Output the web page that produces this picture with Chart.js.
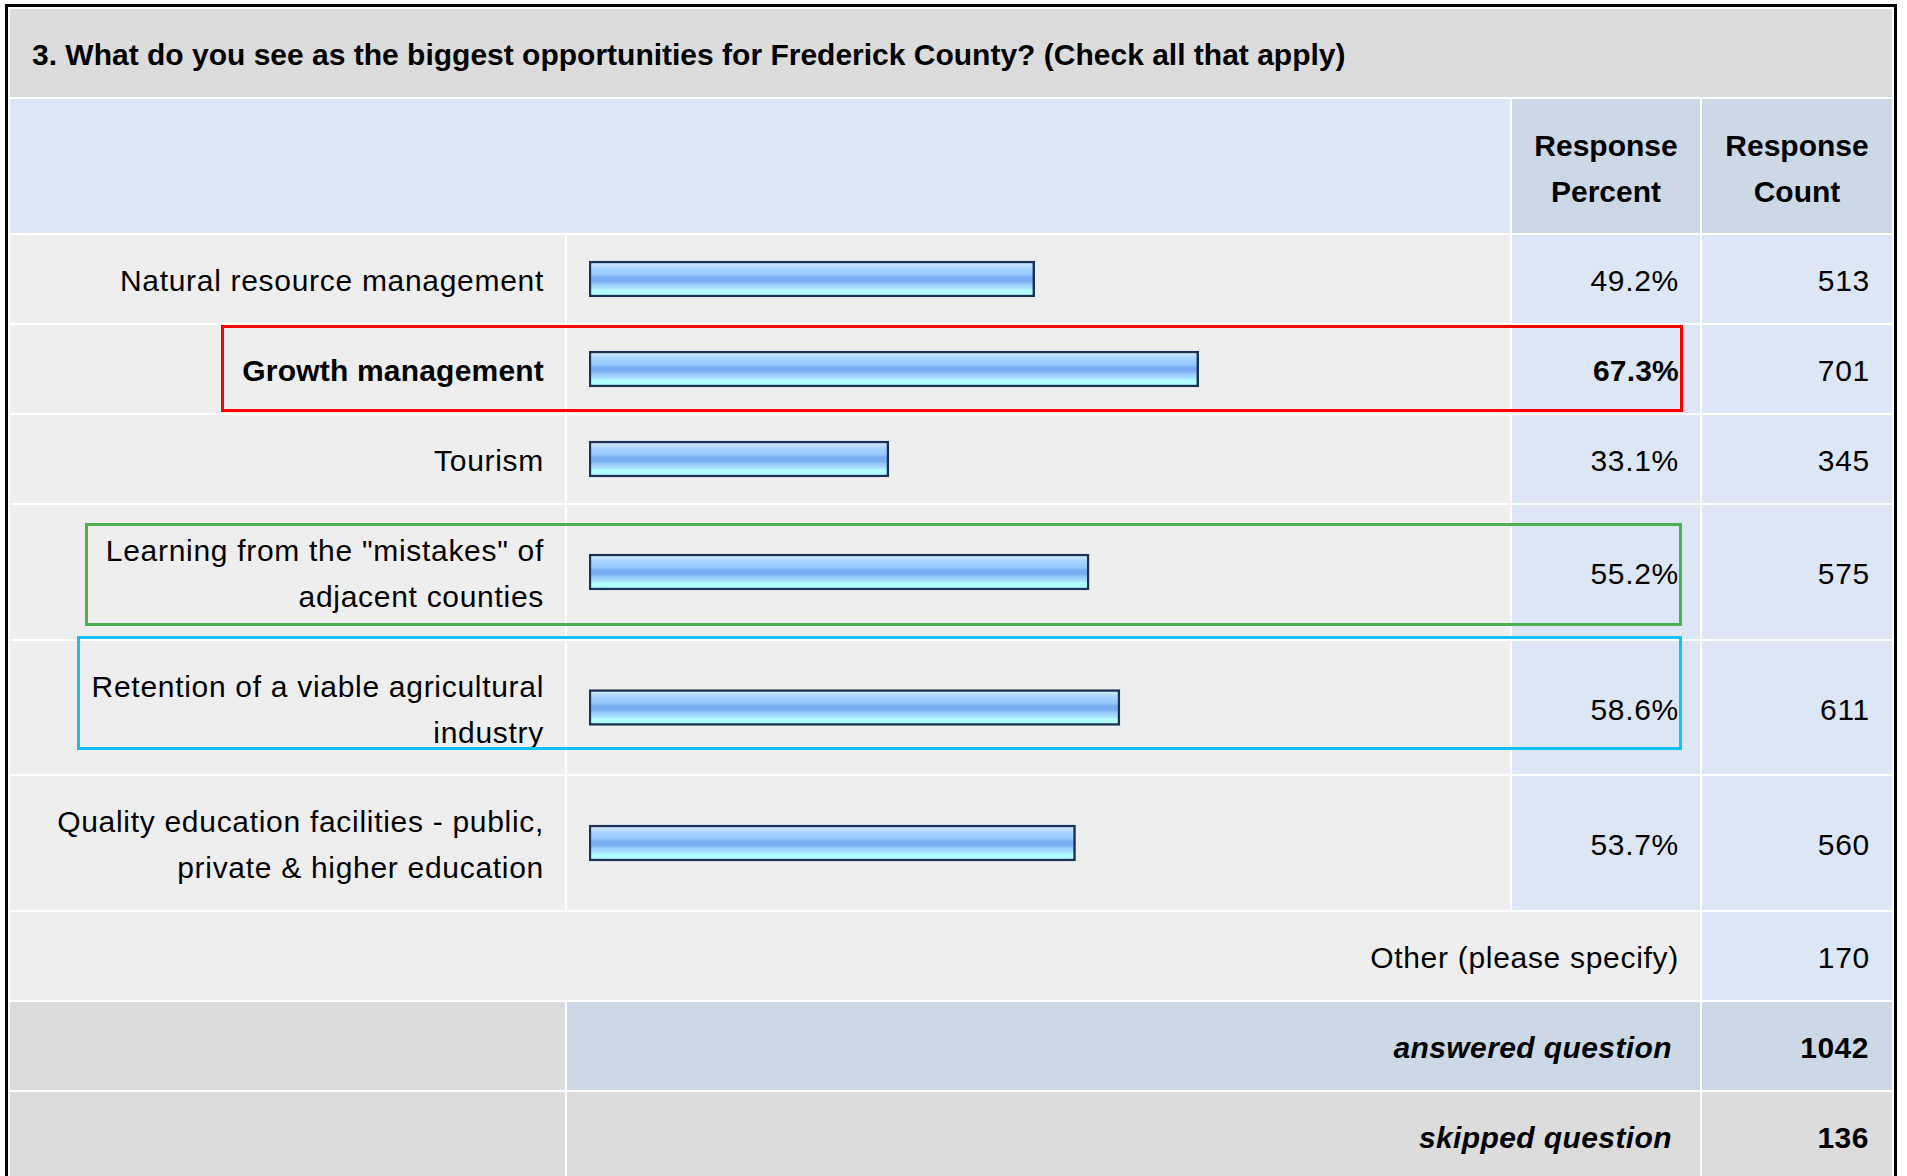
<!DOCTYPE html>
<html>
<head>
<meta charset="utf-8">
<title>Frederick County survey - question 3</title>
<script src="https://cdn.jsdelivr.net/npm/chart.js@4.4.1/dist/chart.umd.min.js"></script>
<style>
    html, body { margin: 0; padding: 0; background: #fff; }
    body {
        width: 1907px; height: 1176px; overflow: hidden; position: relative;
        font-family: "Liberation Sans", Arial, sans-serif; color: #000;
    }
    #survey {
        position: absolute; left: 5px; top: 4px;
        border: 3px solid #000; border-collapse: separate; border-spacing: 2px;
        background: #fff; table-layout: fixed;
    }
    #survey td { padding: 0; font-size: 30px; line-height: 46px; vertical-align: middle; letter-spacing: 0.7px; }
    #survey td .t { position: relative; top: 2px; }
    #survey td.title { background: #dcdcdc; font-weight: bold; padding-left: 22px; text-align: left; letter-spacing: 0; }
    #survey td.blank { background: #dce6f4; }
    #survey td.head { background: #ccd8e6; font-weight: bold; text-align: center; letter-spacing: 0; }
    #survey td.head .t { top: 3px; }
    #survey td.label { background: #eeeeee; text-align: right; padding-right: 21px; }
    #survey td.bar { background: #eeeeee; }
    #survey td.bar canvas { display: block; }
    #survey td.pct { background: #dce6f4; text-align: right; padding-right: 21px; }
    #survey td.count { background: #dce6f4; text-align: right; padding-right: 22px; }
    #survey td.other { background: #eeeeee; text-align: right; padding-right: 21px; }
    #survey td.sumLeft { background: #dcdcdc; }
    #survey td.sumText { font-weight: bold; font-style: italic; text-align: right; padding-right: 28px; letter-spacing: 0.4px; }
    #survey td.sumCount { font-weight: bold; text-align: right; padding-right: 23px; letter-spacing: 0.5px; }
    #survey tr.answered td.sumText, #survey tr.answered td.sumCount { background: #ccd8e6; }
    #survey tr.skipped td.sumText, #survey tr.skipped td.sumCount { background: #dcdcdc; }
    #survey td.strong { font-weight: bold; letter-spacing: 0.2px; }
    .mark { position: absolute; box-sizing: border-box; border: 3px solid; pointer-events: none; }
</style>
</head>
<body>
<table id="survey">
    <colgroup>
        <col style="width:555px"><col style="width:943px"><col style="width:188px"><col style="width:190px">
    </colgroup>
    <tbody id="surveyBody"></tbody>
</table>

<div class="mark" style="left:221px; top:325px; width:1462px; height:87px; border-color:#ff0000;"></div>
<div class="mark" style="left:85px; top:523px; width:1597px; height:103px; border-color:#4caf50;"></div>
<div class="mark" style="left:77px; top:636px; width:1605px; height:114px; border-color:#14c0f6;"></div>

<script>
// Question data
const title = '3. What do you see as the biggest opportunities for Frederick County? (Check all that apply)';
const headers = [['Response', 'Percent'], ['Response', 'Count']];
const categories = [
    ['Natural resource management'],
    ['Growth management'],
    ['Tourism'],
    ['Learning from the "mistakes" of', 'adjacent counties'],
    ['Retention of a viable agricultural', 'industry'],
    ['Quality education facilities - public,', 'private & higher education']
];
const percents = [49.2, 67.3, 33.1, 55.2, 58.6, 53.7];
const counts = [513, 701, 345, 575, 611, 560];
const highlighted = [false, true, false, false, false, false];
const otherLabel = 'Other (please specify)';
const otherCount = 170;
const answeredCount = 1042;
const skippedCount = 136;

const BAR_THICKNESS = 36;

// Glossy blue fill, same look as the survey tool bars
const barFill = (chart) => {
    const area = chart.chartArea;
    if (!area) return '#93c6ff';
    const mid = (area.top + area.bottom) / 2;
    const g = chart.ctx.createLinearGradient(0, mid - BAR_THICKNESS / 2, 0, mid + BAR_THICKNESS / 2);
    g.addColorStop(0, '#d6ecff');
    g.addColorStop(0.1, '#c6e3ff');
    g.addColorStop(0.2, '#a8d4ff');
    g.addColorStop(0.38, '#95c7ff');
    g.addColorStop(0.45, '#79aef2');
    g.addColorStop(0.56, '#79aef2');
    g.addColorStop(0.64, '#97c9fd');
    g.addColorStop(0.76, '#aae2ff');
    g.addColorStop(0.82, '#b2ffff');
    g.addColorStop(1, '#b2ffff');
    return g;
};

document.addEventListener('DOMContentLoaded', () => {
    const body = document.getElementById('surveyBody');
    const rowHeights = categories.map(c => c.length > 1 ? 134 : 88);
    rowHeights[4] = 133;

    let html = `
        <tr><td class="title" colspan="4" style="height:88px"><span class="t">${title}</span></td></tr>
        <tr>
            <td class="blank" colspan="2" style="height:134px"></td>
            <td class="head"><span class="t">${headers[0].join('<br>')}</span></td>
            <td class="head"><span class="t">${headers[1].join('<br>')}</span></td>
        </tr>`;

    categories.forEach((lines, i) => {
        const cls = highlighted[i] ? ' strong' : '';
        html += `
        <tr>
            <td class="label${cls}" style="height:${rowHeights[i]}px"><span class="t">${lines.join('<br>')}</span></td>
            <td class="bar"><canvas id="bar-${i}" width="943" height="${rowHeights[i]}"></canvas></td>
            <td class="pct${cls}"><span class="t">${percents[i].toFixed(1)}%</span></td>
            <td class="count"><span class="t">${counts[i]}</span></td>
        </tr>`;
    });

    html += `
        <tr>
            <td class="other" colspan="3" style="height:88px"><span class="t">${otherLabel}</span></td>
            <td class="count"><span class="t">${otherCount}</span></td>
        </tr>
        <tr class="answered">
            <td class="sumLeft" style="height:88px"></td>
            <td class="sumText" colspan="2"><span class="t">answered question</span></td>
            <td class="sumCount"><span class="t">${answeredCount}</span></td>
        </tr>
        <tr class="skipped">
            <td class="sumLeft" style="height:88px"></td>
            <td class="sumText" colspan="2"><span class="t">skipped question</span></td>
            <td class="sumCount"><span class="t">${skippedCount}</span></td>
        </tr>`;
    body.innerHTML = html;

    // One small horizontal bar chart per row, all on a 0-100 % scale
    categories.forEach((lines, i) => {
        const ctx = document.getElementById(`bar-${i}`).getContext('2d');
        new Chart(ctx, {
            type: 'bar',
            data: {
                labels: [lines.join(' ')],
                datasets: [{
                    data: [percents[i]],
                    backgroundColor: c => barFill(c.chart),
                    borderColor: '#1a3354',
                    borderWidth: 2.5,
                    borderSkipped: false,
                    barThickness: BAR_THICKNESS
                }]
            },
            options: {
                indexAxis: 'y',
                responsive: false,
                animation: false,
                events: [],
                layout: { padding: { left: 22, right: 15, top: 0, bottom: 0 } },
                plugins: {
                    legend: { display: false },
                    tooltip: { enabled: false }
                },
                scales: {
                    x: { min: 0, max: 100, display: false },
                    y: { display: false }
                }
            }
        });
    });
});
</script>
</body>
</html>
